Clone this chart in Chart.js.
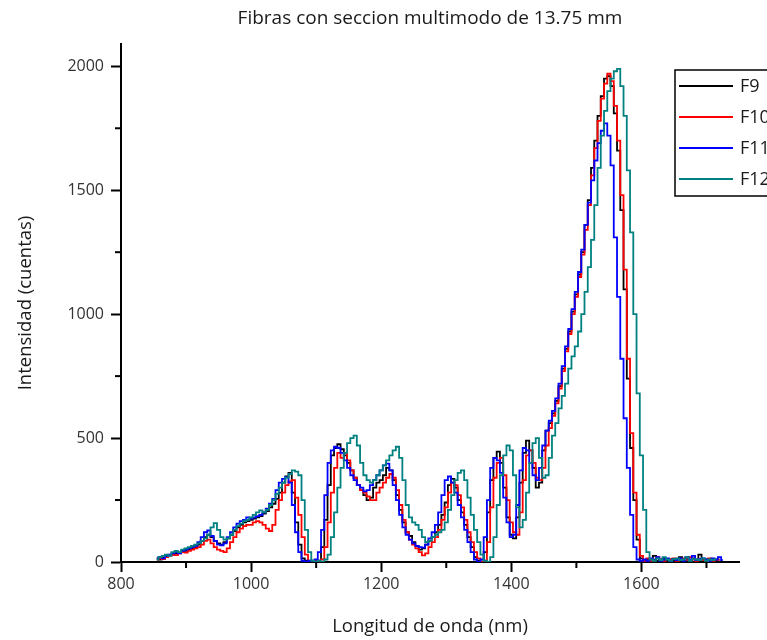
<!DOCTYPE html>
<html>
<head>
<meta charset="utf-8">
<script src="https://cdn.jsdelivr.net/npm/chart.js@4/dist/chart.umd.min.js"></script>
<style>
  html, body { margin: 0; padding: 0; background: #fff; }
  #wrap { width: 767px; height: 640px; position: relative; }
</style>
</head>
<body>
<div id="wrap"><canvas id="c" width="767" height="640"></canvas></div>
<script>
// Wavelength (nm)
const wavelengths = [
  855,860,865,870,875,880,885,890,895,900,
  905,910,915,920,925,930,935,940,945,950,
  955,960,965,970,975,980,985,990,995,1000,
  1005,1010,1015,1020,1025,1030,1035,1040,1045,1050,
  1055,1060,1065,1070,1075,1080,1085,1090,1095,1100,
  1105,1110,1115,1120,1125,1130,1135,1140,1145,1150,
  1155,1160,1165,1170,1175,1180,1185,1190,1195,1200,
  1205,1210,1215,1220,1225,1230,1235,1240,1245,1250,
  1255,1260,1265,1270,1275,1280,1285,1290,1295,1300,
  1305,1310,1315,1320,1325,1330,1335,1340,1345,1350,
  1355,1360,1365,1370,1375,1380,1385,1390,1395,1400,
  1405,1410,1415,1420,1425,1430,1435,1440,1445,1450,
  1455,1460,1465,1470,1475,1480,1485,1490,1495,1500,
  1505,1510,1515,1520,1525,1530,1535,1540,1545,1550,
  1555,1560,1565,1570,1575,1580,1585,1590,1595,1600,
  1605,1610,1615,1620,1625,1630,1635,1640,1645,1650,
  1655,1660,1665,1670,1675,1680,1685,1690,1695,1700,
  1705,1710,1715,1720,1725
];

const F9 = [
  15,10,18,22,28,30,35,38,40,45,
  50,55,60,70,85,100,110,100,85,75,
  70,80,95,110,125,140,150,160,165,170,
  175,180,185,195,205,220,235,255,280,320,
  345,360,280,160,70,15,5,0,5,0,
  5,60,170,310,430,460,475,455,430,400,
  370,340,310,290,270,250,260,300,320,330,
  350,380,370,330,270,210,160,120,105,80,
  65,50,55,70,85,100,120,150,190,240,
  310,335,300,250,200,150,100,60,20,5,
  0,40,200,330,420,445,400,300,180,110,
  95,180,320,440,490,450,380,300,320,450,
  530,560,600,650,710,780,860,930,1010,1080,
  1160,1250,1360,1460,1590,1700,1800,1880,1950,1960,
  1920,1810,1660,1420,1100,740,460,250,90,15,
  5,10,8,25,5,10,15,8,10,5,
  10,20,8,12,5,15,10,30,12,10,
  5,12,8,10,null
];

const F10 = [
  10,15,12,20,25,30,28,35,40,38,
  45,50,55,60,70,85,90,75,60,50,
  45,40,55,80,100,120,135,145,150,150,
  160,165,160,150,135,125,150,210,250,280,
  310,325,330,260,190,100,30,5,0,5,
  0,10,60,160,280,380,440,420,440,410,
  370,340,310,290,280,265,250,250,280,300,
  320,340,355,340,290,230,170,120,90,70,
  55,40,27,35,60,80,100,130,170,220,
  280,320,310,270,220,170,120,80,40,15,
  0,5,80,220,340,400,420,350,250,160,
  120,110,200,330,430,450,400,340,330,380,
  470,540,590,640,700,770,850,920,1000,1070,
  1150,1240,1340,1440,1560,1670,1780,1870,1930,1970,
  1940,1840,1700,1480,1180,820,520,280,110,25,
  5,15,5,10,20,8,5,12,10,15,
  5,10,15,8,20,10,5,12,8,10,
  15,5,10,8,null
];

const F11 = [
  15,20,15,25,30,35,40,35,45,50,
  55,60,65,80,100,120,127,105,85,70,
  67,75,100,120,140,155,165,170,180,175,
  180,185,190,200,215,235,255,290,320,335,
  342,320,230,120,40,5,0,5,0,10,
  40,130,270,400,450,465,460,440,410,380,
  350,330,310,300,285,290,310,330,350,370,
  390,397,370,310,250,190,140,110,90,75,
  65,60,58,70,95,120,150,200,270,330,
  345,320,280,230,180,130,80,40,10,0,
  10,100,250,380,420,410,360,260,160,100,
  110,230,370,460,450,400,350,330,380,470,
  530,570,610,660,720,790,870,940,1020,1090,
  1170,1260,1360,1450,1540,1620,1690,1740,1770,1720,
  1600,1310,1070,820,580,380,190,60,10,5,
  10,5,15,8,20,5,10,15,5,12,
  8,15,5,20,10,25,8,12,15,10,
  5,15,10,20,8
];

const F12 = [
  10,20,25,30,25,40,45,40,50,55,
  60,65,70,75,85,95,110,140,157,130,
  100,90,95,110,130,145,155,165,170,180,
  190,200,208,200,210,230,250,275,300,320,
  340,355,370,365,350,250,130,40,5,0,
  5,0,10,30,100,200,300,380,440,480,
  500,510,470,400,350,330,320,330,350,370,
  390,410,430,450,465,420,330,230,180,160,
  150,130,100,80,85,100,110,120,130,160,
  210,270,330,360,370,330,260,190,130,80,
  30,5,0,20,100,230,350,430,470,450,
  350,220,140,170,280,400,480,500,420,340,
  350,420,510,560,620,670,720,780,830,870,
  930,1000,1090,1190,1300,1440,1590,1720,1820,1900,
  1950,1980,1990,1920,1800,1580,1330,1000,680,430,
  210,40,10,5,15,8,20,10,5,12,
  15,8,10,20,5,12,10,8,15,5,
  10,8,12,null,null
];

const seriesNames = ['F9', 'F10', 'F11', 'F12'];
const seriesValues = [F9, F10, F11, F12];
const seriesColors = ['#000000', '#ff0000', '#0000ff', '#008080'];

const xTickValues = [800, 1000, 1200, 1400, 1600];
const yTickValues = [0, 500, 1000, 1500, 2000];
const xTicksMinor = [900, 1100, 1300, 1500, 1700];
const yTicksMinor = [250, 750, 1250, 1750];

const FONT = "'Open Sans', 'DejaVu Sans', sans-serif";

const minorTicks = {
  id: 'minorTicks',
  afterDraw(chart) {
    const {ctx, chartArea, scales} = chart;
    ctx.save();
    ctx.strokeStyle = '#000';
    ctx.lineWidth = 2;
    xTicksMinor.forEach(v => {
      const px = scales.x.getPixelForValue(v);
      ctx.beginPath();
      ctx.moveTo(px, chartArea.bottom);
      ctx.lineTo(px, chartArea.bottom + 6);
      ctx.stroke();
    });
    yTicksMinor.forEach(v => {
      const py = scales.y.getPixelForValue(v);
      ctx.beginPath();
      ctx.moveTo(chartArea.left - 6, py);
      ctx.lineTo(chartArea.left, py);
      ctx.stroke();
    });
    ctx.restore();
  }
};

const boxLegend = {
  id: 'boxLegend',
  afterDraw(chart) {
    const ctx = chart.ctx;
    ctx.save();
    ctx.strokeStyle = '#000';
    ctx.lineWidth = 1.5;
    ctx.fillStyle = '#fff';
    ctx.fillRect(675, 70, 120, 126);
    ctx.strokeRect(675, 70, 120, 126);
    ctx.font = "18px " + FONT;
    ctx.textBaseline = 'middle';
    ctx.textAlign = 'left';
    chart.data.datasets.forEach((ds, i) => {
      const y = 86 + i * 31;
      ctx.strokeStyle = ds.borderColor;
      ctx.lineWidth = 2;
      ctx.beginPath();
      ctx.moveTo(679, y);
      ctx.lineTo(733, y);
      ctx.stroke();
      ctx.fillStyle = '#1a1a1a';
      ctx.fillText(ds.label, 740, y + 1);
    });
    ctx.restore();
  }
};

const datasets = seriesNames.map((name, i) => ({
  label: name,
  data: wavelengths.map((w, j) => ({x: w, y: seriesValues[i][j]})),
  borderColor: seriesColors[i],
  backgroundColor: seriesColors[i],
  borderWidth: 1.8,
  pointRadius: 0,
  stepped: 'middle',
  fill: false,
  order: 4 - i
}));

new Chart(document.getElementById('c'), {
  type: 'line',
  data: { datasets },
  options: {
    responsive: false,
    animation: false,
    devicePixelRatio: 1,
    layout: { padding: { left: 0, right: 28, top: 0, bottom: 0 } },
    plugins: {
      legend: { display: false },
      tooltip: { enabled: false },
      title: {
        display: true,
        fullSize: false,
        text: 'Fibras con seccion multimodo de 13.75 mm',
        color: '#1a1a1a',
        font: { family: FONT, size: 19, weight: 'normal' },
        padding: { top: 7, bottom: 14.2 }
      }
    },
    scales: {
      x: {
        type: 'linear',
        min: 800,
        max: 1750,
        afterFit: s => { s.height = 78; },
        afterBuildTicks: s => { s.ticks = xTickValues.map(v => ({ value: v })); },
        border: { display: true, color: '#000', width: 2 },
        grid: { display: true, drawOnChartArea: false, drawTicks: true, tickLength: 10, tickColor: '#000', tickWidth: 2 },
        ticks: {
          autoSkip: false,
          maxRotation: 0,
          padding: 3,
          color: '#333',
          font: { family: FONT, size: 16 },
          callback: v => String(v)
        },
        title: {
          display: true,
          text: 'Longitud de onda (nm)',
          color: '#1a1a1a',
          font: { family: FONT, size: 18.5 },
          padding: { top: 0, bottom: 2 }
        }
      },
      y: {
        type: 'linear',
        min: 0,
        max: 2090,
        afterFit: s => { s.width = 121; },
        afterBuildTicks: s => { s.ticks = yTickValues.map(v => ({ value: v })); },
        border: { display: true, color: '#000', width: 2 },
        grid: { display: true, drawOnChartArea: false, drawTicks: true, tickLength: 10, tickColor: '#000', tickWidth: 2 },
        ticks: {
          autoSkip: false,
          padding: 7,
          color: '#333',
          font: { family: FONT, size: 16 },
          callback: v => String(v)
        },
        title: {
          display: true,
          text: 'Intensidad (cuentas)',
          color: '#1a1a1a',
          font: { family: FONT, size: 18.5 },
          padding: { top: 14.6, bottom: 0 }
        }
      }
    }
  },
  plugins: [minorTicks, boxLegend]
});
</script>
</body>
</html>
